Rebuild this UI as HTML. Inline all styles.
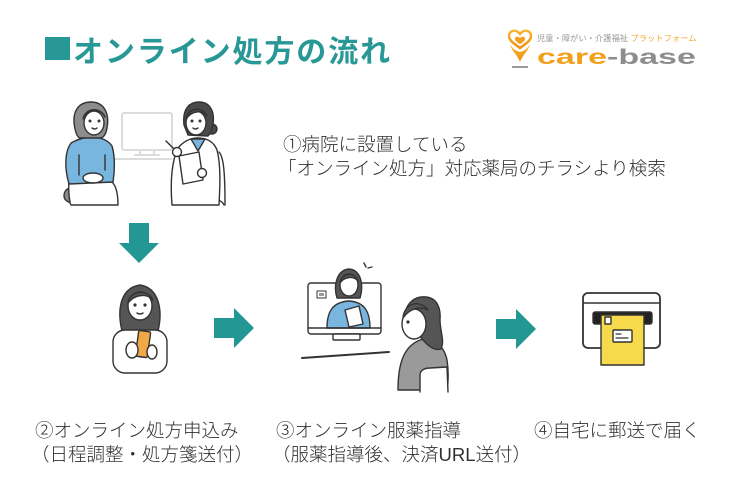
<!DOCTYPE html>
<html><head><meta charset="utf-8">
<style>
html,body{margin:0;padding:0;background:#fff;}
body{width:750px;height:500px;position:relative;overflow:hidden;}
.t{position:absolute;white-space:nowrap;font-family:"Liberation Sans","Noto Sans CJK JP",sans-serif;color:#303030;}
.b{font-size:18.5px;line-height:23.5px;font-weight:300;}
</style></head><body>

<div style="position:absolute;left:45px;top:37px;width:25px;height:23px;background:#279896;"></div>
<div class="t" style="left:73px;top:34px;font-size:30px;line-height:30px;font-weight:bold;letter-spacing:1.9px;color:#279896;font-family:'Noto Sans CJK JP',sans-serif;">オンライン処方の流れ</div>

<div class="t" style="left:537px;top:34px;font-size:8.2px;line-height:10px;color:#999;letter-spacing:0.1px;">児童・障がい・介護福祉 <span style="color:#f0a830;">プラットフォーム</span></div>
<div class="t" style="left:537px;top:47px;font-size:21px;line-height:21px;font-weight:bold;letter-spacing:0px;transform:scaleX(1.62);transform-origin:0 0;"><span style="color:#f2a01c;">care</span><span style="color:#8d8d8d;">-base</span></div>

<div class="t b" style="left:283px;top:133px;">①病院に設置している</div>
<div class="t b" style="left:278px;top:156.5px;">「オンライン処方」対応薬局のチラシより検索</div>

<div class="t b" style="left:35px;top:419px;">②オンライン処方申込み</div>
<div class="t b" style="left:31px;top:442.5px;">（日程調整・処方箋送付）</div>
<div class="t b" style="left:276px;top:419px;">③オンライン服薬指導</div>
<div class="t b" style="left:272px;top:442.5px;">（服薬指導後、決済URL送付）</div>
<div class="t b" style="left:534px;top:419px;">④自宅に郵送で届く</div>

<svg width="750" height="500" style="position:absolute;left:0;top:0;" xmlns="http://www.w3.org/2000/svg">
<defs>
<linearGradient id="og" x1="0" y1="0" x2="0" y2="1"><stop offset="0" stop-color="#f7b733"/><stop offset="1" stop-color="#ee8f12"/></linearGradient>
</defs>
<!-- logo icon -->
<g>
<path d="M520,34 C516,29 509,30 509,36 C509,41 515,44 520,48 C525,44 531,41 531,36 C531,30 524,29 520,34 Z" fill="none" stroke="url(#og)" stroke-width="2.5"/>
<path d="M520,38 C518,36 515,36 515,39 C515,41 518,43 520,44 C522,43 525,41 525,39 C525,36 522,36 520,38 Z" fill="#f2a01c"/>
<path d="M510,44 C512,52 517,54 520,62 C523,54 528,52 530,44 C527,50 523,51 520,52 C517,51 513,50 510,44 Z" fill="url(#og)"/>
<rect x="512" y="66" width="16" height="2" fill="#999"/>
</g>

<!-- arrows -->
<g fill="#239794">
<polygon points="129,223 149,223 149,243 159,243 139,263 119,243 129,243"/>
<polygon points="214,318 234,318 234,308 254,328 234,348 234,338 214,338"/>
<polygon points="496,319 516,319 516,309 536,329 516,349 516,339 496,339"/>
</g>

<g stroke="#333" stroke-width="1.4" stroke-linejoin="round" stroke-linecap="round">
<!-- scene 1 background monitor -->
<rect x="122" y="113" width="50" height="37" rx="2" fill="none" stroke="#dcdcdc" stroke-width="2"/>
<path d="M140,150 L140,155 M154,150 L154,155 M135,155 L159,155" fill="none" stroke="#dcdcdc" stroke-width="2"/>
<path d="M113,159 L171,159" stroke="#dcdcdc" stroke-width="2"/>

<!-- patient -->
<path d="M64,196 C64,189 70,186 79,188 L81,203 C71,205 64,201 64,196 Z" fill="#8c8c8c"/>
<path d="M69,180 C68,192 70,205 71,205 L118,205 C118,194 116,183 109,180 Z" fill="#fff"/>
<path d="M69,184 C64,167 65,151 71,143 C78,139 85,137 92,137 C100,137 108,140 112,146 C115,156 115,170 113,182 Z" fill="#78b6e0"/>
<path d="M79,155 L79,175 M105,155 L105,170" fill="none"/>
<ellipse cx="93" cy="178" rx="10" ry="5" fill="#fff"/>
<path d="M75,129 C71,111 79,102 91,102 C103,102 110,112 107,128 C106,134 104,137 101,138 L80,138 C77,137 76,133 75,129 Z" fill="#8c8c8c"/>
<ellipse cx="94" cy="123" rx="10" ry="12" fill="#fff"/>
<path d="M83,119 C85,108 100,106 105,117 C102,109 90,107 83,119 Z" fill="#8c8c8c"/>
<circle cx="90" cy="121" r="0.8" fill="#333"/><circle cx="99" cy="121" r="0.8" fill="#333"/>
<path d="M92,128 Q95,130 97,128" fill="none"/>

<!-- doctor -->
<path d="M219,152 C224,157 225,176 225,205" fill="none"/>
<path d="M206,200 C215,198 222,200 224,205" fill="none"/>
<path d="M172,205 C170,181 172,160 178,148 C184,141 190,138 198,138 C207,138 214,142 217,150 C221,165 220,186 219,205 Z" fill="#fff"/>
<path d="M191,139 L198,151 L205,139 Z" fill="#78b6e0"/>
<path d="M166,141 L176,151" fill="none"/>
<polygon points="179,156 199,152 203,180 183,184" fill="#fff"/>
<circle cx="177" cy="152" r="4.5" fill="#fff"/>
<circle cx="202" cy="173" r="4.5" fill="#fff"/>
<circle cx="212" cy="129" r="5" fill="#4a4a4a"/>
<path d="M184,125 C182,108 190,102 199,102 C209,102 215,110 213,124 C212,131 210,134 208,136 L188,135 Z" fill="#4a4a4a"/>
<ellipse cx="196" cy="123" rx="10" ry="12" fill="#fff"/>
<path d="M186,119 C188,107 203,106 207,116 C203,110 192,110 186,119 Z" fill="#4a4a4a"/>
<circle cx="192" cy="121" r="0.8" fill="#333"/><circle cx="200" cy="121" r="0.8" fill="#333"/>
<path d="M193,128 Q195,130 198,128" fill="none"/>

<!-- scene 2: woman with phone -->
<path d="M122,331 C117,310 120,288 140,285 C159,288 163,310 158,331 Z" fill="#555"/>
<rect x="113" y="330" width="54" height="43" rx="12" fill="#fff"/>
<ellipse cx="140" cy="306" rx="12" ry="14" fill="#fff"/>
<path d="M128,303 C129,291 148,288 153,300 C148,294 136,293 128,303 Z" fill="#555"/>
<circle cx="135" cy="305" r="0.9" fill="#333"/><circle cx="145" cy="305" r="0.9" fill="#333"/>
<path d="M137,313 Q140,315 143,313" fill="none"/>
<rect x="137" y="331" width="12" height="26" rx="1.5" fill="#f3a847" transform="rotate(8 143 344)"/>
<ellipse cx="132" cy="350" rx="6" ry="8" fill="#fff"/>
<ellipse cx="152" cy="352" rx="5" ry="7" fill="#fff"/>

<!-- scene 3: video call -->
<rect x="308" y="283" width="73" height="51" rx="3" fill="#fff"/>
<rect x="317" y="291" width="9" height="7" fill="#fff" stroke-width="1"/>
<rect x="319" y="293" width="5" height="3" fill="#999" stroke="none"/>
<path d="M337,298 C333,285 337,270 349,269 C361,270 364,285 360,298 Z" fill="#555"/>
<path d="M327,328 C327,311 333,302 349,301 C364,302 370,311 370,328 Z" fill="#78b6e0"/>
<ellipse cx="349" cy="285" rx="9" ry="11" fill="#fff"/>
<path d="M340,283 C341,273 355,271 358,281 C354,276 345,276 340,283 Z" fill="#555"/>
<polygon points="345,310 359,306 363,324 349,327" fill="#fff"/>
<path d="M308,328 L381,328" fill="none"/>
<path d="M364,263 L366,267 M368,268 L372,267" fill="none"/>
<rect x="333" y="334" width="27" height="6" rx="1" fill="#fff"/>
<path d="M302,358 L389,352" fill="none" stroke-width="2"/>
<path d="M398,390 C398,361 405,346 420,340 C432,337 444,345 447,360 C449,372 448,385 447,390 Z" fill="#9a9a9a"/>
<path d="M405,320 C404,302 416,296 426,297 C437,298 441,308 440,320 C440,332 445,340 441,349 C435,351 428,346 424,341 Z" fill="#555"/>
<ellipse cx="414" cy="324" rx="12" ry="15" fill="#fff"/>
<path d="M403,318 C404,303 420,299 428,310 C420,306 410,308 403,318 Z" fill="#555"/>
<circle cx="408" cy="322" r="0.9" fill="#333"/>
<path d="M420,392 L420,375 C420,370 425,368 430,368 L447,367 L448,392" fill="#fff"/>

<!-- scene 4: mailbox -->
<rect x="583" y="293" width="77" height="55" rx="5" fill="#fff" stroke-width="1.8"/>
<path d="M584,303 L659,303" fill="none"/>
<rect x="593" y="312" width="59" height="12" rx="2" fill="#222"/>
<rect x="601" y="315" width="43" height="50" fill="#f7d94c"/>
<rect x="605" y="317" width="6" height="7" fill="#fff"/>
<rect x="613" y="330" width="19" height="12" rx="1" fill="#fff"/>
<path d="M616,334 L621,334 M616,338 L628,338" fill="none" stroke-width="1.2"/>
</g>
</svg>
</body></html>
